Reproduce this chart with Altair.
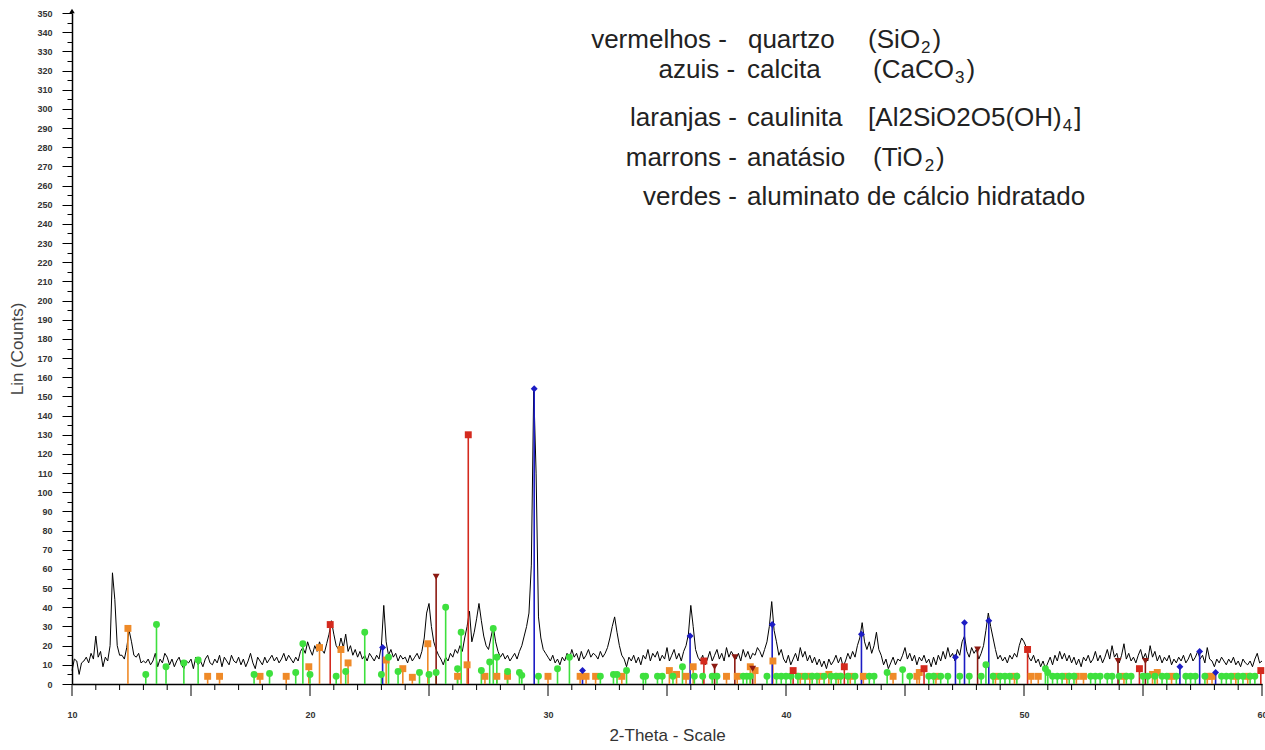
import altair as alt
import pandas as pd

# ---------------- data ----------------
scan_start = 10.0
scan_step = 0.1
counts = [
    7, 13, 12, 5, 11, 12, 14, 11, 16, 13,
    25, 14, 17, 9, 14, 12, 20, 58, 44, 20,
    15, 15, 13, 19, 28, 22, 15, 14, 16, 11,
    12, 11, 13, 10, 12, 16, 9, 13, 11, 16,
    14, 10, 13, 9, 12, 14, 10, 8, 12, 11,
    13, 8, 14, 10, 12, 9, 13, 15, 11, 10,
    13, 11, 15, 9, 14, 12, 10, 15, 12, 11,
    14, 10, 13, 9, 12, 16, 11, 8, 14, 12,
    10, 14, 11, 13, 15, 12, 14, 11, 13, 16,
    12, 15, 13, 11, 14, 12, 17, 19, 16, 22,
    18, 15, 20, 17, 22, 18, 16, 21, 26, 33,
    26, 20, 18, 24, 19, 26, 17, 20, 15, 18,
    14, 17, 13, 15, 12, 16, 14, 12, 15, 13,
    20, 41, 22, 15, 18, 14, 16, 12, 15, 13,
    14, 11, 15, 12, 14, 16, 13, 17, 24, 37,
    42, 30, 22, 18, 15, 13, 10, 14, 12, 16,
    14, 18, 16, 20, 17, 24, 30, 38, 22, 27,
    34, 42, 33, 25, 20, 18, 24, 30, 22, 17,
    14, 16, 13, 15, 12, 14, 16, 13, 17, 20,
    25, 30, 37, 62, 154, 110, 35, 24, 18, 16,
    14, 12, 15, 11, 13, 10, 14, 12, 16, 13,
    18, 14, 16, 12, 17, 13, 15, 18, 14, 16,
    15, 13, 17, 14, 16, 19, 24, 30, 35, 27,
    20, 15, 13, 9, 14, 12, 15, 11, 14, 10,
    15, 13, 18, 12, 16, 14, 17, 12, 15, 13,
    19, 12, 15, 18, 13, 16, 12, 17, 20, 26,
    41, 30, 18, 14, 12, 15, 10, 13, 17, 12,
    15, 18, 13, 16, 12, 19, 14, 17, 15, 13,
    16, 12, 18, 14, 17, 13, 16, 15, 19, 17,
    14, 18, 22, 30, 43, 28, 22, 15, 18, 13,
    11, 15, 10, 13, 16, 12, 19, 14, 17, 12,
    15, 11, 14, 10, 13, 9, 12, 8, 13, 10,
    12, 15, 11, 14, 9, 12, 16, 13, 17, 14,
    20, 24, 32, 22, 18, 22, 16, 20, 27, 18,
    15, 10, 13, 8, 11, 14, 10, 13, 12, 15,
    19, 13, 16, 12, 15, 10, 14, 12, 15, 11,
    13, 9, 14, 10, 15, 12, 17, 13, 19, 14,
    16, 12, 18, 15, 22, 25, 17, 14, 19, 16,
    18, 13, 16, 20, 28, 37, 30, 24, 18, 13,
    15, 12, 14, 11, 15, 13, 16, 14, 20, 24,
    22, 19, 14, 12, 15, 11, 13, 9, 12, 8,
    11, 14, 10, 15, 12, 17, 13, 16, 12, 15,
    11, 14, 10, 13, 9, 14, 12, 15, 11, 13,
    17, 12, 15, 11, 14, 18, 13, 20, 14, 16,
    11, 15, 21, 13, 16, 12, 14, 11, 15, 18,
    13, 16, 12, 20, 14, 17, 12, 15, 11, 14,
    12, 15, 10, 13, 11, 14, 12, 15, 11, 13,
    16, 12, 14, 17, 13, 15, 11, 19, 13, 12,
    9, 13, 11, 14, 12, 10, 13, 11, 14, 10,
    12, 9, 13, 11, 10, 12, 9, 13, 16, 11,
    12,
]

caulinita_2t = [12.35, 15.7, 16.2, 17.9, 19.0, 19.95, 20.4, 21.3, 21.6, 23.2, 23.9, 24.3,
                24.95, 26.2, 26.6, 27.35, 27.85, 28.3, 30.0, 31.35, 31.6, 32.0, 33.1, 35.1,
                35.4, 35.8, 36.1, 37.5, 37.95, 38.5, 38.7, 39.45, 40.6, 41.0, 41.4, 41.8,
                42.2, 42.7, 43.25, 44.5, 45.5, 45.6, 46.3, 48.8, 49.6, 50.3, 50.6, 51.8,
                52.2, 52.5, 54.2, 55.4, 55.6, 56.2, 57.7, 57.9, 58.9, 59.4]
caulinita_i = [29, 4, 4, 4, 4, 9, 19, 18, 11, 12.5, 8, 3.5,
               21, 4, 10, 4, 4, 4, 4, 4, 4, 4, 4, 7,
               5, 4, 9, 4, 4, 9, 7, 12, 4, 4, 4, 5,
               4, 4, 4, 4, 4, 6, 4, 4, 4, 4, 4, 4,
               4, 4, 4, 5, 6, 4, 4, 4, 4, 4]

aluminato_2t = [13.1, 13.55, 13.95, 14.7, 15.3, 17.65, 18.3, 19.4, 19.7, 20.0, 21.1, 21.5,
                22.3, 23.0, 23.3, 23.7, 24.6, 25.0, 25.3, 25.7, 26.2, 26.35, 27.2, 27.55,
                27.7, 27.85, 28.3, 28.8, 28.9, 29.6, 30.4, 30.9, 32.2, 32.75, 32.9, 33.3,
                34.0, 34.1, 34.6, 34.8, 35.25, 35.65, 36.15, 36.5, 36.9, 37.1, 38.2, 38.35,
                38.5, 39.2, 39.6, 39.8, 40.0, 40.2, 40.5, 40.8, 41.1, 41.3, 41.6, 41.9,
                42.1, 42.3, 42.6, 42.9, 43.5, 43.7, 44.25, 44.9, 45.2, 46.0, 46.2, 46.5,
                46.8, 47.3, 47.7, 48.2, 48.4, 48.7, 49.0, 49.2, 49.4, 49.7, 50.9, 51.0,
                51.2, 51.4, 51.6, 51.9, 52.1, 52.8, 53.0, 53.2, 53.5, 53.7, 54.0, 54.3,
                54.5, 55.0, 55.2, 55.5, 55.8, 56.0, 56.4, 56.8, 57.0, 57.2, 57.6, 58.3,
                58.5, 58.7, 59.0, 59.2, 59.5, 59.7]
aluminato_i = [5, 31, 9, 11, 12.5, 5, 5.5, 6, 21, 5, 4, 6.5,
               27, 5, 14, 6.5, 6, 5, 6, 40, 8, 27, 7, 11.5,
               29, 14, 6.5, 6, 4.5, 4, 8, 14, 4, 5, 5, 7,
               4, 4, 4, 4, 4, 9, 4, 4, 4, 4, 4, 4,
               4, 4, 4, 4, 4, 4, 4, 4, 4, 4, 4, 4,
               4, 4, 4, 4, 4, 4, 6, 7.5, 4, 4, 4, 4,
               4, 4, 4, 4, 10, 4, 4, 4, 4, 4, 8, 6,
               4, 4, 4, 4, 4, 4, 4, 4, 4, 4, 4, 4,
               4, 4, 4, 4, 4, 4, 4, 4, 4, 4, 4, 4,
               4, 4, 4, 4, 4, 4]

quartzo_2t = [20.85, 26.65, 36.55, 40.30, 42.45, 45.80, 50.15, 54.85, 59.95]
quartzo_i = [31, 130, 12, 7, 9, 8, 18, 8, 7]

anatasio_2t = [25.30, 37.00, 37.85, 38.60, 48.05, 53.95, 55.10]
anatasio_i = [56, 9, 14, 8, 18, 12, 12]

calcita_2t = [23.05, 29.42, 31.45, 35.97, 39.42, 43.17, 47.12, 47.50, 48.52, 56.55, 57.38, 58.05]
calcita_i = [19, 154, 7, 25, 31, 26, 14, 32, 33, 9, 17, 6]

phase_names = ["laranjas", "verdes", "vermelhos", "marrons", "azuis"]
phase_colors = ["#ef8a28", "#3ee03e", "#d42a1e", "#8c1a12", "#1c1cc4"]
phase_shapes = ["square", "circle", "square", "triangle-down", "diamond"]

legend_labels = ["vermelhos -", "azuis -", "laranjas -", "marrons -", "verdes -"]
legend_minerals = ["quartzo", "calcita", "caulinita", "anatásio", "aluminato de cálcio hidratado"]
# formula pieces: (text before subscript, subscript, text after)
legend_formulas = [("(SiO", "2", ")"), ("(CaCO", "3", ")"),
                   ("[Al2SiO2O5(OH)", "4", "]"), ("(TiO", "2", ")")]

# annotation anchor positions (data units: 2θ, counts)
legend_y = [336, 320.5, 295, 274.5, 254]
legend_label_x = [37.52, 37.86, 37.94, 37.94, 37.94]
legend_mineral_x = [38.40, 38.36, 38.36, 38.36, 38.36]
legend_formula_x = [43.45, 43.66, 43.45, 43.66]

x_tick_values = list(range(10, 61))

# ---------------- layout constants ----------------
W, H = 1190, 671
X_MIN, X_MAX = 10, 60
PX_PER_DEG = W / (X_MAX - X_MIN)
FONT = "Liberation Sans"
TXT_SIZE = 26
SUB_SIZE = 17

# Arial / Liberation Sans advance widths (1/1000 em) for the formula characters
ADV = {"(": 333, ")": 333, "[": 278, "]": 278, "S": 667, "i": 222, "O": 778, "C": 722,
       "a": 556, "A": 667, "l": 222, "T": 611, "H": 722, "2": 556, "3": 556, "4": 556,
       "5": 556}


def text_px(s, size):
    return sum(ADV.get(c, 556) for c in s) * size / 1000.0


# ---------------- tables ----------------
trace = pd.DataFrame({
    "x": [round(scan_start + i * scan_step, 2) for i in range(len(counts))],
    "y": counts,
})

rows = []
for name, xs, ys in [("laranjas", caulinita_2t, caulinita_i),
                     ("verdes", aluminato_2t, aluminato_i),
                     ("vermelhos", quartzo_2t, quartzo_i),
                     ("marrons", anatasio_2t, anatasio_i),
                     ("azuis", calcita_2t, calcita_i)]:
    for a, b in zip(xs, ys):
        rows.append({"x": a, "y": b, "y0": 0, "fase": name})
sticks = pd.DataFrame(rows)
sticks["ordem"] = sticks["fase"].map({n: i for i, n in enumerate(phase_names)})

legend_df = pd.DataFrame({
    "y": legend_y, "xl": legend_label_x, "xm": legend_mineral_x,
    "lab": legend_labels, "min": legend_minerals,
})

main_rows, sub_rows = [], []
for (pre, sub, post), x0, y0 in zip(legend_formulas, legend_formula_x, legend_y):
    w_pre = text_px(pre, TXT_SIZE)
    w_sub = text_px(sub, SUB_SIZE)
    main_rows.append({"x": x0, "y": y0, "t": pre})
    sub_rows.append({"x": x0 + (w_pre + 1.0) / PX_PER_DEG, "y": y0, "t": sub})
    main_rows.append({"x": x0 + (w_pre + w_sub + 3.0) / PX_PER_DEG, "y": y0, "t": post})
form_main = pd.DataFrame(main_rows)
form_sub = pd.DataFrame(sub_rows)

ticks_df = pd.DataFrame({"x": x_tick_values})
ticks_df["major"] = ticks_df["x"] % 5 == 0

# ---------------- encodings ----------------
xaxis = alt.Axis(
    title="2-Theta - Scale",
    values=x_tick_values,
    labelExpr="datum.value % 10 === 0 ? datum.label : ''",
    format="d",
    ticks=False,
    domainColor="black", domainWidth=1.5,
    labelFont=FONT, labelFontSize=9, labelColor="#333", labelFontWeight="bold",
    labelPadding=26, labelFlush=False, labelOverlap=False,
    titleFont=FONT, titleFontSize=17, titleFontWeight="normal", titleColor="#333",
    titlePadding=8, grid=False,
)
yaxis = alt.Axis(
    title="Lin (Counts)",
    values=list(range(0, 351, 5)),
    labelExpr="datum.value % 10 === 0 ? datum.label : ''",
    format="d",
    ticks=True,
    tickSize={"condition": {"test": "datum.value % 10 === 0", "value": 10}, "value": 5},
    tickColor="black", tickWidth=1,
    domainColor="black", domainWidth=1.5,
    labelFont=FONT, labelFontSize=9, labelColor="#333", labelFontWeight="bold",
    labelPadding=10, labelOverlap=False, labelFlush=False,
    titleFont=FONT, titleFontSize=17, titleFontWeight="normal", titleColor="#444",
    titlePadding=10, grid=False,
)
xsc = alt.Scale(domain=[X_MIN, X_MAX], nice=False, zero=False)
ysc = alt.Scale(domain=[0, 350], nice=False)

X = alt.X("x:Q", scale=xsc, axis=xaxis)
Y = alt.Y("y:Q", scale=ysc, axis=yaxis)

color_enc = alt.Color("fase:N", scale=alt.Scale(domain=phase_names, range=phase_colors), legend=None)
shape_enc = alt.Shape("fase:N", scale=alt.Scale(domain=phase_names, range=phase_shapes), legend=None)

line = alt.Chart(trace).mark_line(color="black", strokeWidth=1).encode(x=X, y=Y)

rules = alt.Chart(sticks).mark_rule(strokeWidth=1.6).encode(
    x=X, y=Y, y2=alt.Y2("y0:Q"), color=color_enc, order=alt.Order("ordem:Q"))

points = alt.Chart(sticks).mark_point(filled=True, opacity=1, size=48).encode(
    x=X, y=Y, color=color_enc, shape=shape_enc, order=alt.Order("ordem:Q"))

arrow = alt.Chart(pd.DataFrame({"x": [10], "y": [350]})).mark_point(
    shape="triangle-up", filled=True, color="black", opacity=1, size=30, yOffset=-2
).encode(x=X, y=Y)

minor_ticks = alt.Chart(ticks_df).transform_filter("!datum.major").mark_rule(
    color="black", strokeWidth=1).encode(x=X, y=alt.value(H), y2=alt.value(H + 6))
major_ticks = alt.Chart(ticks_df).transform_filter("datum.major").mark_rule(
    color="black", strokeWidth=1).encode(x=X, y=alt.value(H), y2=alt.value(H + 12))

txt_common = dict(font=FONT, fontSize=TXT_SIZE, color="#222", baseline="middle")
t_lab = alt.Chart(legend_df).mark_text(align="right", **txt_common).encode(
    x=alt.X("xl:Q", scale=xsc, axis=xaxis), y=Y, text="lab:N")
t_min = alt.Chart(legend_df).mark_text(align="left", **txt_common).encode(
    x=alt.X("xm:Q", scale=xsc, axis=xaxis), y=Y, text="min:N")
t_form = alt.Chart(form_main).mark_text(align="left", **txt_common).encode(
    x=X, y=Y, text="t:N")
t_sub = alt.Chart(form_sub).mark_text(
    align="left", font=FONT, fontSize=SUB_SIZE, color="#222", baseline="middle", dy=8
).encode(x=X, y=Y, text="t:N")

chart = alt.layer(line, rules, points, arrow, minor_ticks, major_ticks,
                  t_lab, t_min, t_form, t_sub).properties(
    width=W, height=H,
    padding={"left": 72, "top": 13, "right": 3, "bottom": 66},
    autosize=alt.AutoSizeParams(type="none"),
    background="white",
).configure_view(stroke=None)

chart.save("out.html", embed_options={"renderer": "svg", "actions": False})
